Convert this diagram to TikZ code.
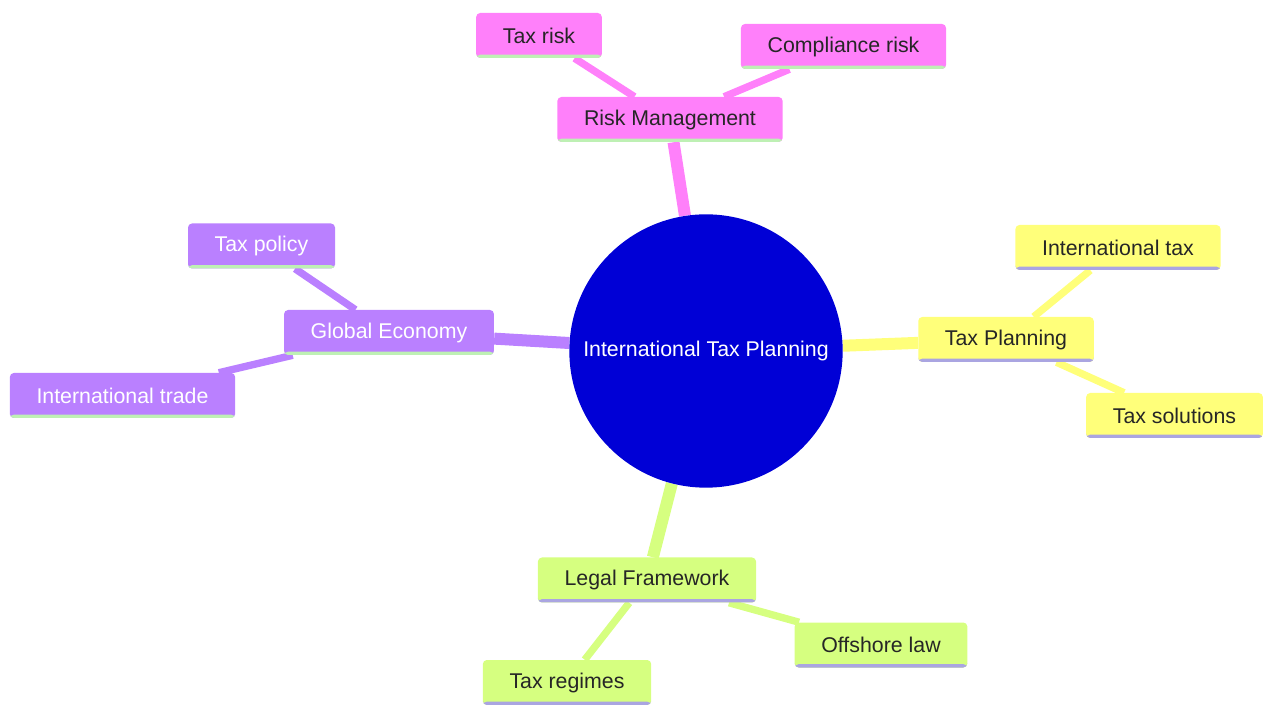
\documentclass[tikz,border=0pt]{standalone}
\usepackage{fontspec}
\setmainfont{Liberation Sans}
\pgfdeclarelayer{bg}
\pgfsetlayers{bg,main}
\definecolor{rootblue}{RGB}{0,0,214}
\definecolor{riskpink}{RGB}{255,128,250}
\definecolor{econpurple}{RGB}{186,128,255}
\definecolor{planyellow}{RGB}{255,255,122}
\definecolor{lawgreen}{RGB}{214,255,128}
\definecolor{mintline}{RGB}{190,240,180}
\definecolor{lilacline}{RGB}{170,165,225}
\tikzset{
	rootnode/.style = {circle, minimum size = 205pt, inner sep = 0pt, fill = rootblue, text = white},
	topicbox/.style = {rectangle, rounded corners = 3pt, minimum height = 33.75pt, inner xsep = 20pt, text centered},
	uline/.style = {path picture = {\fill[#1] ([yshift = 2.5pt]path picture bounding box.south west) rectangle (path picture bounding box.south east);}},
	riskbox/.style = {topicbox, fill = riskpink, text = black!85, uline = mintline},
	econbox/.style = {topicbox, fill = econpurple, text = white, uline = mintline},
	planbox/.style = {topicbox, fill = planyellow, text = black!85, uline = lilacline},
	lawbox/.style = {topicbox, fill = lawgreen, text = black!85, uline = lilacline},
	trunk/.style = {line width = 9pt},
	twig/.style = {line width = 5.5pt}
}

\begin{document}
\begin{tikzpicture}[x = 0.75pt, y = -0.75pt, font = \fontsize{16pt}{19pt}\selectfont]
	
	\useasboundingbox (0,0) rectangle (1264,705);
	
	%% nodes
	\node (itp) [rootnode] at (706,351) {International Tax Planning};
	
	\node (risk) [riskbox] at (670,119.5) {Risk Management};
	\node (taxrisk) [riskbox] at (539,35.5) {Tax risk};
	\node (comprisk) [riskbox] at (843.5,46.5) {Compliance risk};
	
	\node (econ) [econbox] at (389,332.5) {Global Economy};
	\node (policy) [econbox] at (261.5,246) {Tax policy};
	\node (trade) [econbox] at (122.5,395.5) {International trade};
	
	\node (plan) [planbox] at (1006,339.5) {Tax Planning};
	\node (inttax) [planbox] at (1118,247.5) {International tax};
	\node (solutions) [planbox] at (1174.5,415.5) {Tax solutions};
	
	\node (law) [lawbox] at (647,580) {Legal Framework};
	\node (regimes) [lawbox] at (567,682.5) {Tax regimes};
	\node (offshore) [lawbox] at (881,645) {Offshore law};
	
	%% branches
	\begin{pgfonlayer}{bg}
		\draw [trunk, riskpink] (itp) -- (risk);
		\draw [twig, riskpink] (risk) -- (taxrisk);
		\draw [twig, riskpink] (risk) -- (comprisk);
		
		\draw [trunk, econpurple] (itp) -- (econ);
		\draw [twig, econpurple] (econ) -- (policy);
		\draw [twig, econpurple] (econ) -- (trade);
		
		\draw [trunk, planyellow] (itp) -- (plan);
		\draw [twig, planyellow] (plan) -- (inttax);
		\draw [twig, planyellow] (plan) -- (solutions);
		
		\draw [trunk, lawgreen] (itp) -- (law);
		\draw [twig, lawgreen] (law) -- (regimes);
		\draw [twig, lawgreen] (law) -- (offshore);
	\end{pgfonlayer}
	
\end{tikzpicture}
\end{document}
